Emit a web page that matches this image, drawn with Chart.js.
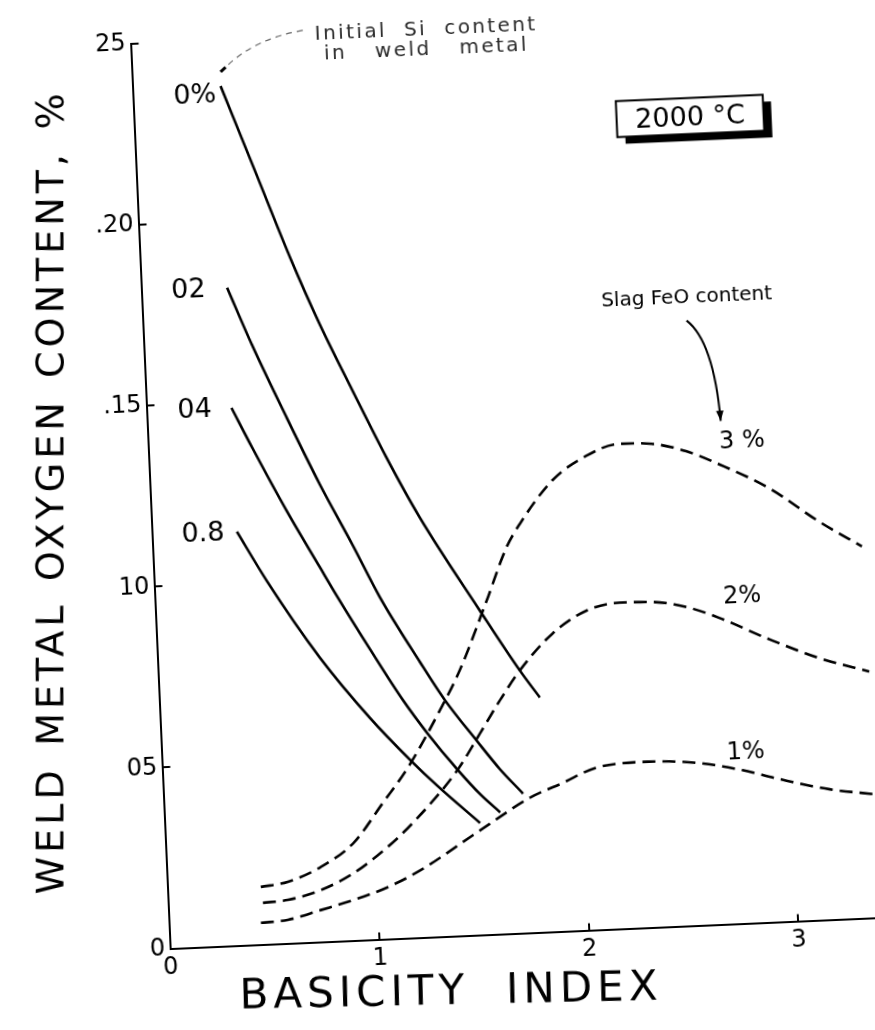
<!DOCTYPE html>
<html>
<head>
<meta charset="utf-8">
<script src="https://cdn.jsdelivr.net/npm/chart.js@4.4.1/dist/chart.umd.min.js"></script>
<style>
  html, body { margin: 0; padding: 0; background: #fff; overflow: hidden; width: 875px; height: 1030px; }
  #wrap { width: 875px; height: 1030px; transform: rotate(-2.5deg); transform-origin: 437.5px 515px; }
  canvas { display: block; }
</style>
</head>
<body>
<div id="wrap"><canvas id="c" width="875" height="1030"></canvas></div>
<script>
// Weld metal oxygen (%) against basicity index, 2000 °C.
// Solid curves: initial Si content in the weld metal.
const si0X  = [0.420, 0.570, 0.720, 0.841, 0.985, 1.133, 1.279, 1.546, 1.725, 1.815];
const si0Y  = [0.2373, 0.2129, 0.1885, 0.1707, 0.1518, 0.1329, 0.1160, 0.0896, 0.0725, 0.0648];
const si02X = [0.409, 0.516, 0.665, 0.809, 0.955, 1.073, 1.251, 1.362, 1.507, 1.610, 1.715];
const si02Y = [0.1816, 0.1655, 0.1452, 0.1264, 0.1090, 0.0944, 0.0760, 0.0652, 0.0535, 0.0455, 0.0385];
const si04X = [0.405, 0.497, 0.647, 0.793, 0.868, 1.016, 1.162, 1.275, 1.406, 1.511, 1.602];
const si04Y = [0.1484, 0.1370, 0.1193, 0.1034, 0.0953, 0.0801, 0.0657, 0.0560, 0.0460, 0.0388, 0.0336];
const si08X = [0.405, 0.538, 0.774, 1.001, 1.183, 1.311, 1.504];
const si08Y = [0.1142, 0.1002, 0.0785, 0.0612, 0.0492, 0.0415, 0.0309];

// Dashed curves: FeO content of the slag.
const feo1X = [0.438, 0.567, 0.726, 0.885, 1.050, 1.210, 1.503, 1.748, 1.908, 2.072, 2.312, 2.549, 2.739, 2.941, 3.178, 3.391];
const feo1Y = [0.0060, 0.0065, 0.0088, 0.0112, 0.0143, 0.0186, 0.0289, 0.0373, 0.0410, 0.0448, 0.0458, 0.0449, 0.0427, 0.0394, 0.0360, 0.0341];
const feo2X = [0.452, 0.571, 0.730, 0.891, 1.058, 1.186, 1.406, 1.522, 1.624, 1.725, 1.889, 2.056, 2.214, 2.371, 2.532, 2.687, 2.921, 3.155, 3.391];
const feo2Y = [0.0115, 0.0120, 0.0143, 0.0186, 0.0254, 0.0319, 0.0457, 0.0556, 0.0645, 0.0725, 0.0823, 0.0882, 0.0900, 0.0898, 0.0880, 0.0846, 0.0781, 0.0723, 0.0680];
const feo3X = [0.445, 0.575, 0.735, 0.896, 1.047, 1.173, 1.336, 1.439, 1.582, 1.687, 1.754, 1.919, 2.086, 2.245, 2.402, 2.563, 2.717, 2.951, 3.182, 3.382];
const feo3Y = [0.0159, 0.0170, 0.0207, 0.0269, 0.0378, 0.0472, 0.0625, 0.0733, 0.0922, 0.1066, 0.1128, 0.1245, 0.1309, 0.1338, 0.1334, 0.1310, 0.1270, 0.1198, 0.1100, 0.1026];

// Tick labels as lettered on the axes.
const xTickLabels = ['0', '1', '2', '3'];
const yTickLabels = ['0', '05', '10', '.15', '.20', '25'];

// Curve labels.
const siLabels  = ['0%', '02', '04', '0.8'];
const feoLabels = ['1%', '2%', '3 %'];

const FONT = '"DejaVu Sans", "Liberation Sans", sans-serif';
const DEG = Math.PI / 180;

// Where the curve labels and notes sit, in axis units (basicity, oxygen %).
const siLabelAt  = [[0.295, 0.2355], [0.224, 0.1821], [0.229, 0.1489], [0.243, 0.1146]];
const feoLabelAt = [[2.785, 0.0478], [2.801, 0.0909], [2.832, 0.1336]];
const noteLayout = {
  initial: { lines: ['Initial Si content', 'in weld metal'], at: [[1.412, 0.2508], [1.409, 0.2455]], widths: [223, 205], size: 20 },
  leader:  { from: [0.423, 0.2412], ctrl: [0.600, 0.2500], to: [0.826, 0.2517] },
  slag:    { text: 'Slag FeO content', at: [2.598, 0.1740], size: 20 },
  arrow:   { from: [2.593, 0.1670], ctrl: [2.717, 0.1610], to: [2.735, 0.1389] },
  temp:    { text: '2000 °C', at: [2.652, 0.2234], w: 147, h: 36, size: 27 }
};

const solid = (xs, ys) => ({
  data: xs.map((v, i) => ({ x: v, y: ys[i] })),
  borderColor: '#000', borderWidth: 2.6, pointRadius: 0, fill: false,
  cubicInterpolationMode: 'monotone'
});
const dashed = (xs, ys) => Object.assign(solid(xs, ys), { borderDash: [13, 7] });

function capText(ctx, text, x, y, size) {
  ctx.font = size + 'px ' + FONT;
  ctx.textAlign = 'center';
  ctx.textBaseline = 'alphabetic';
  ctx.fillText(text, x, y + size * 0.365);
}

// letter spacing fixed, word gaps stretched so the line spans `target` px
function spacedText(ctx, text, target, letter) {
  ctx.letterSpacing = letter + 'px';
  ctx.wordSpacing = '0px';
  const w0 = ctx.measureText(text).width;
  const gaps = (text.match(/ /g) || []).length;
  ctx.wordSpacing = Math.max(0, (target - w0) / gaps) + 'px';
}

const notes = {
  id: 'notes',
  afterDraw(chart) {
    const { ctx, scales: { x, y } } = chart;
    const P = (a) => [x.getPixelForValue(a[0]), y.getPixelForValue(a[1])];
    ctx.save();
    ctx.fillStyle = '#000';
    ctx.strokeStyle = '#000';

    siLabels.forEach((t, i) => { const p = P(siLabelAt[i]); capText(ctx, t, p[0], p[1], 27); });
    feoLabels.forEach((t, i) => { const p = P(feoLabelAt[i]); capText(ctx, t, p[0], p[1], 24); });

    // note on the Si curves with its dashed leader
    const n = noteLayout.initial;
    ctx.fillStyle = '#2a2a2a';
    n.lines.forEach((t, i) => {
      const p = P(n.at[i]);
      ctx.font = n.size + 'px ' + FONT;
      spacedText(ctx, t, n.widths[i], 2.4);
      ctx.textAlign = 'center';
      ctx.textBaseline = 'alphabetic';
      ctx.fillText(t, p[0], p[1] + 7.3);
    });
    ctx.letterSpacing = '0px';
    ctx.wordSpacing = '0px';
    ctx.fillStyle = '#000';
    const L = noteLayout.leader;
    const a = P(L.from), c = P(L.ctrl), b = P(L.to);
    ctx.lineWidth = 3;
    ctx.beginPath();
    ctx.moveTo(a[0], a[1]);
    ctx.lineTo(a[0] + 0.14 * (c[0] - a[0]), a[1] + 0.14 * (c[1] - a[1]));
    ctx.stroke();
    ctx.lineWidth = 1.2;
    ctx.strokeStyle = '#666';
    ctx.setLineDash([6, 5]);
    ctx.beginPath();
    ctx.moveTo(a[0] + 0.22 * (c[0] - a[0]), a[1] + 0.22 * (c[1] - a[1]));
    ctx.quadraticCurveTo(c[0], c[1], b[0], b[1]);
    ctx.stroke();
    ctx.setLineDash([]);
    ctx.strokeStyle = '#000';

    // slag FeO note with its arrow
    const s = noteLayout.slag;
    const sp = P(s.at);
    capText(ctx, s.text, sp[0], sp[1], s.size);
    const A = noteLayout.arrow;
    const f = P(A.from), k = P(A.ctrl), e = P(A.to);
    ctx.lineWidth = 2;
    ctx.beginPath();
    ctx.moveTo(f[0], f[1]);
    ctx.quadraticCurveTo(k[0], k[1], e[0], e[1]);
    ctx.stroke();
    const ang = Math.atan2(e[1] - k[1], e[0] - k[0]);
    ctx.beginPath();
    ctx.moveTo(e[0], e[1]);
    ctx.lineTo(e[0] - 11 * Math.cos(ang - 0.35), e[1] - 11 * Math.sin(ang - 0.35));
    ctx.lineTo(e[0] - 11 * Math.cos(ang + 0.35), e[1] - 11 * Math.sin(ang + 0.35));
    ctx.closePath();
    ctx.fill();

    // temperature box with a drop shadow
    const T = noteLayout.temp;
    const tp = P(T.at);
    const bx = tp[0] - T.w / 2, by = tp[1] - T.h / 2;
    ctx.fillRect(bx + 8, by + 7, T.w, T.h);
    ctx.fillStyle = '#fff';
    ctx.fillRect(bx, by, T.w, T.h);
    ctx.lineWidth = 2;
    ctx.strokeRect(bx, by, T.w, T.h);
    ctx.fillStyle = '#000';
    capText(ctx, T.text, tp[0], tp[1], T.size);

    // axis titles (lettered upright on the sheet)
    ctx.font = '38px ' + FONT;
    spacedText(ctx, 'WELD METAL OXYGEN CONTENT, %', 805, 4);
    ctx.translate(50.9, 475);
    ctx.rotate(-90 * DEG + 2.5 * DEG);
    ctx.textAlign = 'center';
    ctx.textBaseline = 'alphabetic';
    ctx.fillText('WELD METAL OXYGEN CONTENT, %', 0, 38 * 0.365);
    ctx.setTransform(1, 0, 0, 1, 0, 0);

    ctx.font = '42px ' + FONT;
    spacedText(ctx, 'BASICITY INDEX', 423, 5);
    ctx.translate(430.3, 989);
    ctx.rotate(1.3 * DEG);
    ctx.fillText('BASICITY INDEX', 0, 42 * 0.365);
    ctx.setTransform(1, 0, 0, 1, 0, 0);
    ctx.restore();
  }
};

new Chart(document.getElementById('c'), {
  type: 'line',
  data: {
    datasets: [
      solid(si0X, si0Y), solid(si02X, si02Y), solid(si04X, si04Y), solid(si08X, si08Y),
      dashed(feo1X, feo1Y), dashed(feo2X, feo2Y), dashed(feo3X, feo3Y)
    ]
  },
  options: {
    responsive: false,
    animation: false,
    devicePixelRatio: 1,
    layout: { padding: { left: 0, top: 31, right: 0, bottom: 0 } },
    plugins: { legend: { display: false }, tooltip: { enabled: false } },
    scales: {
      x: {
        type: 'linear', min: 0, max: 3.453,
        afterFit: (s) => { s.height = 93.5; },
        border: { display: true, color: '#000', width: 2 },
        grid: { drawOnChartArea: false, tickLength: -7, color: '#000', lineWidth: 2 },
        ticks: {
          stepSize: 1, includeBounds: false, color: '#000', padding: 12,
          font: { family: FONT, size: 24 },
          callback: (v) => xTickLabels[Math.round(v)]
        },
        title: { display: false }
      },
      y: {
        type: 'linear', min: 0, max: 0.25,
        afterFit: (s) => { s.width = 151.5; },
        border: { display: true, color: '#000', width: 2 },
        grid: { drawOnChartArea: false, tickLength: -8, color: '#000', lineWidth: 2 },
        ticks: {
          stepSize: 0.05, includeBounds: false, color: '#000', padding: 13,
          font: { family: FONT, size: 24 },
          callback: (v) => yTickLabels[Math.round(v / 0.05)]
        },
        title: { display: false }
      }
    }
  },
  plugins: [notes]
});
</script>
</body>
</html>
